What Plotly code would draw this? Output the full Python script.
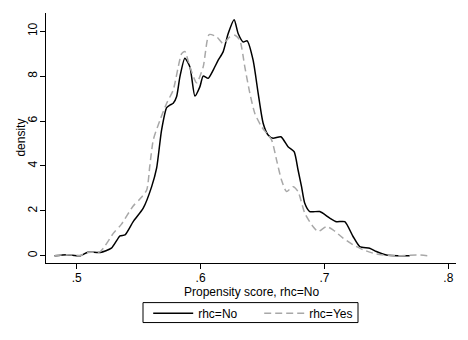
import plotly.graph_objects as go

# kernel density of propensity score
no_x = [0.482, 0.492, 0.503, 0.509, 0.519, 0.528, 0.535, 0.539, 0.5456, 0.5537,
        0.5605, 0.5645, 0.5685, 0.5726, 0.5752, 0.5779, 0.5806, 0.5833, 0.5873, 0.5914,
        0.5954, 0.5994, 0.6021, 0.6061, 0.6102, 0.6142, 0.6182, 0.6223, 0.6271, 0.6303,
        0.6344, 0.6376, 0.6424, 0.6465, 0.6505, 0.6545, 0.6585, 0.6648, 0.6706, 0.6755,
        0.6787, 0.6815, 0.6841, 0.6881, 0.6962, 0.7043, 0.7097, 0.7164, 0.7231, 0.7285,
        0.7365, 0.7419, 0.750, 0.7688]
no_y = [0.0, 0.05, 0.0, 0.16, 0.15, 0.34, 0.89, 0.93, 1.52, 2.12,
        3.08, 3.9, 5.6, 6.6, 6.71, 6.79, 7.08, 7.97, 8.8, 8.41,
        7.11, 7.52, 8.0, 7.9, 8.27, 8.71, 9.08, 9.9, 10.51, 9.9,
        9.52, 9.57, 8.71, 7.23, 5.9, 5.38, 5.23, 5.3, 4.86, 4.64,
        3.82, 3.08, 2.34, 1.97, 1.97, 1.68, 1.52, 1.52, 0.86, 0.41,
        0.34, 0.19, 0.04, 0.0]

yes_x = [0.482, 0.492, 0.503, 0.509, 0.519, 0.5295, 0.536, 0.5456, 0.551, 0.5565,
         0.559, 0.5618, 0.5672, 0.5726, 0.5779, 0.5847, 0.5873, 0.5914, 0.5968, 0.6021,
         0.6069, 0.6129, 0.6182, 0.6236, 0.6277, 0.6317, 0.6357, 0.6398, 0.6438, 0.6492,
         0.6573, 0.6613, 0.6653, 0.6694, 0.6747, 0.6787, 0.6841, 0.6908, 0.6948, 0.7016,
         0.7069, 0.715, 0.7231, 0.7311, 0.7419, 0.7581, 0.7742, 0.7847]
yes_y = [0.0, 0.05, 0.02, 0.15, 0.19, 1.0, 1.4, 2.22, 2.53, 2.93,
         4.0, 5.16, 6.04, 6.79, 7.38, 9.0, 9.1, 8.41, 7.7, 8.41,
         9.85, 9.75, 9.45, 9.75, 9.82, 9.6, 8.41, 7.23, 6.34, 5.75,
         5.16, 4.27, 3.38, 2.86, 3.08, 2.86, 1.9, 1.3, 1.08, 1.3,
         1.16, 0.79, 0.49, 0.27, 0.08, 0.0, 0.04, 0.0]

x_ticks = [0.5, 0.6, 0.7, 0.8]
x_labels = [".5", ".6", ".7", ".8"]
y_ticks = [0, 2, 4, 6, 8, 10]

fig = go.Figure()
fig.add_trace(go.Scatter(x=no_x, y=no_y, mode="lines", name="rhc=No",
                         line=dict(color="black", width=1.5, shape="spline", smoothing=0.6)))
fig.add_trace(go.Scatter(x=yes_x, y=yes_y, mode="lines", name="rhc=Yes",
                         line=dict(color="#a8a8a8", width=1.5, dash="7px,4px",
                                   shape="spline", smoothing=0.6)))

font = dict(family="Liberation Sans, Arial, sans-serif", size=12, color="black")
fig.update_layout(
    width=468, height=340,
    margin=dict(l=46, r=12, t=13, b=77),
    paper_bgcolor="white", plot_bgcolor="white",
    font=font,
    showlegend=True,
    legend=dict(orientation="h", x=0.52, xanchor="center", xref="paper",
                y=0.079, yanchor="middle", yref="container",
                borderwidth=0, bgcolor="rgba(0,0,0,0)", font=dict(size=12),
                itemwidth=40, entrywidth=56),
)
# legend frame (Stata style thin box)
fig.add_shape(type="rect", xref="paper", yref="paper",
              x0=0.2366, x1=0.761, y0=-0.1584, y1=-0.2382,
              line=dict(color="black", width=1))
# axis titles placed as annotations to match Stata spacing
fig.add_annotation(text="Propensity score, rhc=No", xref="paper", yref="paper",
                   x=0.5, y=-0.079, yanchor="top", showarrow=False,
                   font=dict(size=12))
fig.add_annotation(text="density", xref="paper", yref="paper", textangle=-90,
                   x=-0.062, y=0.5, xanchor="center", showarrow=False,
                   font=dict(size=12))
fig.update_xaxes(range=[0.4752, 0.8062], tickvals=x_ticks, ticktext=x_labels,
                 showline=True, linecolor="black", linewidth=1, ticks="outside",
                 ticklen=5, tickcolor="black", showgrid=False, zeroline=False,
                 tickfont=dict(size=12), automargin=False, ticklabelstandoff=-1)
fig.update_yaxes(range=[-0.32, 10.81], tickvals=y_ticks, tickangle=-90,
                 showline=True, linecolor="black", linewidth=1, ticks="outside",
                 ticklen=5, tickcolor="black", showgrid=False, zeroline=False,
                 tickfont=dict(size=12), automargin=False, ticklabelstandoff=-2)

# page body has a default 8px margin; drop it so the figure sits at the window corner
fig.write_html("out.html", config={"displayModeBar": False},
               post_script="document.body.style.margin='0';")
